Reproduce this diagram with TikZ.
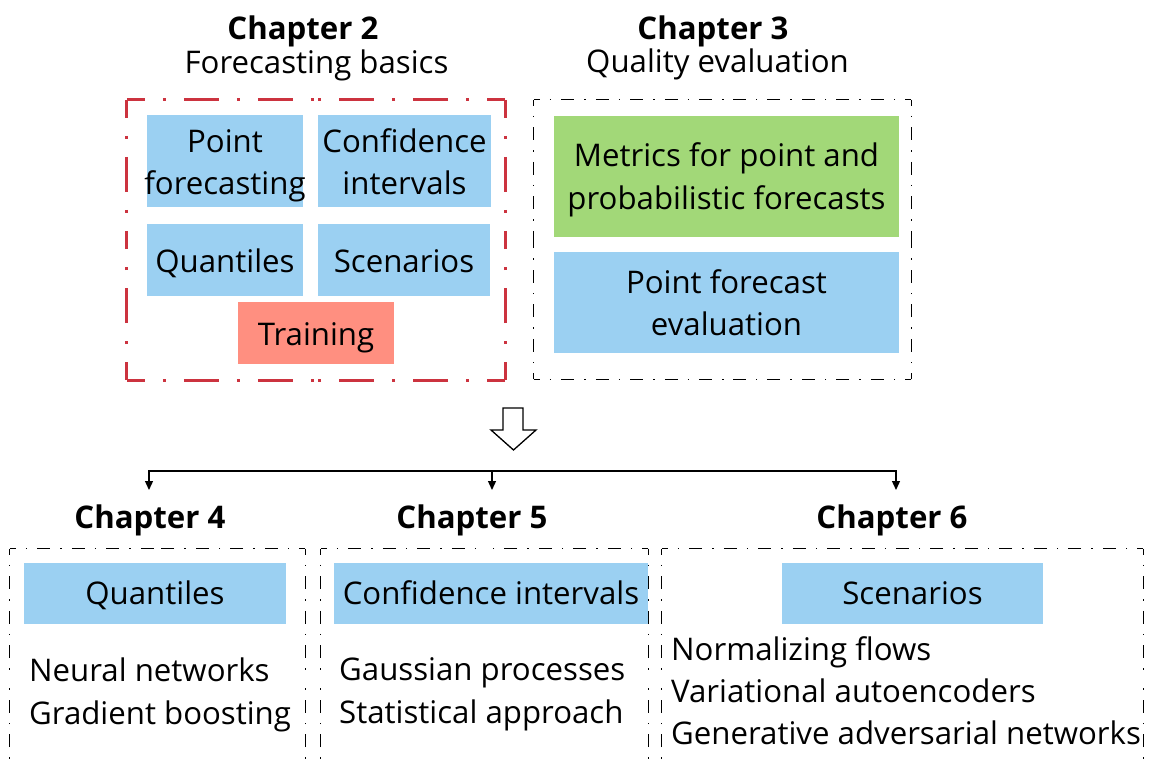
\documentclass[tikz,border=0pt]{standalone}
\usepackage{fontspec}
\setmainfont{Open Sans}
\usetikzlibrary{arrows.meta}
\definecolor{boxblue}{RGB}{155,208,242}
\definecolor{boxgreen}{RGB}{162,216,120}
\definecolor{boxsalmon}{RGB}{255,143,128}
\definecolor{framered}{RGB}{204,51,63}
\newcommand{\dashframe}[2]{%
  \draw[#1] (#2.north west) -- (#2.north);
  \draw[#1] (#2.north east) -- (#2.north);
  \draw[#1] (#2.north east) -- (#2.east);
  \draw[#1] (#2.south east) -- (#2.east);
  \draw[#1] (#2.south east) -- (#2.south);
  \draw[#1] (#2.south west) -- (#2.south);
  \draw[#1] (#2.south west) -- (#2.west);
  \draw[#1] (#2.north west) -- (#2.west);
}
\begin{document}
\begin{tikzpicture}[x=1pt,y=-1pt,
  txt/.style={font=\fontsize{31.2}{42}\selectfont, inner sep=0pt, anchor=base},
  ltxt/.style={font=\fontsize{31.2}{42}\selectfont, inner sep=0pt, anchor=base west},
  ttl/.style={font=\fontsize{31.2}{42}\selectfont\bfseries, inner sep=0pt, anchor=base},
  fillbox/.style={draw=none, inner sep=0pt, minimum width=#1},
  bluebox/.style={fillbox=#1, fill=boxblue},
  greenbox/.style={fillbox=#1, fill=boxgreen},
  salmonbox/.style={fillbox=#1, fill=boxsalmon},
  framebox/.style={draw=none, inner sep=0pt},
  redline/.style={draw=framered, line width=3pt,
    dash pattern=on 35pt off 18pt on 3pt off 18pt, dash phase=17pt},
  blackline/.style={draw=black, line width=1.3pt,
    dash pattern=on 13pt off 10pt on 1.5pt off 10pt, dash phase=7pt},
  conn/.style={draw=black, line width=1.3pt},
  tip/.style={-{Triangle[length=9pt,width=8pt]}},
]
\useasboundingbox (0,0) rectangle (1153,762);
\clip (0,0) rectangle (1153,762);

% ---- Chapter 2 ----
\node[ttl] (t2) at (303,40) {Chapter 2};
\node[txt] (s2) at (316.5,74) {Forecasting basics};
\node[framebox, minimum width=378, minimum height=280] (f2) at (316,240) {};
\dashframe{redline}{f2}
\node[bluebox=156, minimum height=92] (pf) at (225,161) {};
\node[txt] (pfa) at (225,153) {Point};
\node[txt] (pfb) at (225,194) {forecasting};
\node[bluebox=173, minimum height=92] (ci) at (404.5,161) {};
\node[txt] (cia) at (404.5,153) {Confidence};
\node[txt] (cib) at (404.5,194) {intervals};
\node[bluebox=156, minimum height=72] (qu) at (225,260) {};
\node[txt] (qut) at (225,272) {Quantiles};
\node[bluebox=172, minimum height=72] (sc) at (404,260) {};
\node[txt] (sct) at (404,272) {Scenarios};
\node[salmonbox=156, minimum height=62] (tr) at (316,333) {};
\node[txt] (trt) at (316,345) {Training};

% ---- Chapter 3 ----
\node[ttl] (t3) at (713,40) {Chapter 3};
\node[txt] (s3) at (717.5,73) {Quality evaluation};
\node[framebox, minimum width=377, minimum height=279] (f3) at (722.5,239.5) {};
\dashframe{blackline}{f3}
\node[greenbox=345, minimum height=121] (me) at (726.5,176.5) {};
\node[txt] (mea) at (726.5,167) {Metrics for point and};
\node[txt] (meb) at (726.5,209) {probabilistic forecasts};
\node[bluebox=345, minimum height=101] (pe) at (726.5,302.5) {};
\node[txt] (pea) at (726.5,293) {Point forecast};
\node[txt] (peb) at (726.5,335) {evaluation};

% ---- hollow arrow ----
\draw[line width=1.3pt, fill=white] (503,408) -- (523,408) -- (523,430) -- (536,430)
  -- (513.5,450) -- (491,430) -- (503,430) -- cycle;

% ---- connectors ----
\coordinate (l4) at (149,471);
\coordinate (l5) at (492,471);
\coordinate (l6) at (896,471);
\coordinate (a4) at (149,490);
\coordinate (a5) at (492,490);
\coordinate (a6) at (896,490);
\draw[conn, {Triangle[length=9pt,width=8pt]}-{Triangle[length=9pt,width=8pt]}]
  (a4) -- (l4) -- (l6) -- (a6);
\draw[conn, tip] (l5) -- (a5);

% ---- Chapter 4 ----
\node[ttl] (t4) at (150,528) {Chapter 4};
\node[framebox, minimum width=295, minimum height=260] (f4) at (157.5,679) {};
\dashframe{blackline}{f4}
\node[bluebox=262, minimum height=61] (q4) at (155,593.5) {};
\node[txt] (q4t) at (155,604) {Quantiles};
\node[ltxt] (n4) at (29,681) {Neural networks};
\node[ltxt] (g4) at (29,724) {Gradient boosting};

% ---- Chapter 5 ----
\node[ttl] (t5) at (472,528) {Chapter 5};
\node[framebox, minimum width=327, minimum height=260] (f5) at (484.5,679) {};
\dashframe{blackline}{f5}
\node[bluebox=314, minimum height=61] (c5) at (491,593.5) {};
\node[txt] (c5t) at (491,604) {Confidence intervals};
\node[ltxt] (g5) at (339,680) {Gaussian processes};
\node[ltxt] (s5) at (339,723) {Statistical approach};

% ---- Chapter 6 ----
\node[ttl] (t6) at (892,528) {Chapter 6};
\node[framebox, minimum width=481, minimum height=260] (f6) at (902.5,679) {};
\dashframe{blackline}{f6}
\node[bluebox=261, minimum height=61] (s6) at (912.5,593.5) {};
\node[txt] (s6t) at (912.5,604) {Scenarios};
\node[ltxt] (n6) at (671,660) {Normalizing flows};
\node[ltxt] (v6) at (671,702) {Variational autoencoders};
\node[ltxt] (g6) at (671,744) {Generative adversarial networks};
\end{tikzpicture}
\end{document}
